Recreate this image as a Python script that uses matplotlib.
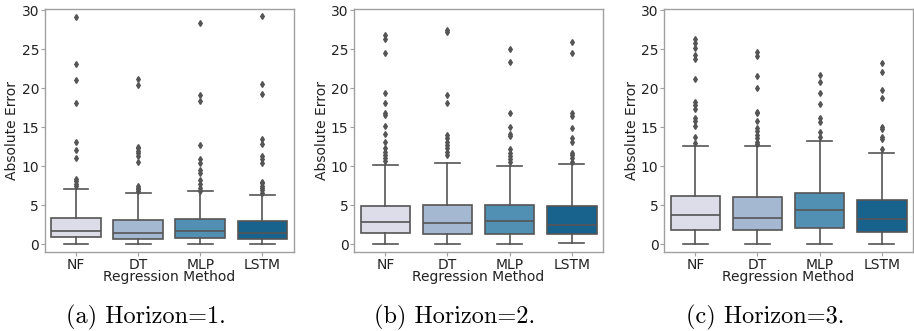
import matplotlib
matplotlib.use("Agg")
import matplotlib.pyplot as plt
import seaborn as sns

methods = ["NF", "DT", "MLP", "LSTM"]
horizons = [1, 2, 3]
panel_tags = ["a", "b", "c"]

# Box summaries per horizon, one entry per method: lower whisker, Q1, median, Q3, upper whisker
h1_whislo = [0.08, 0.08, 0.08, 0.08]
h1_q1 = [0.98, 0.68, 0.81, 0.68]
h1_med = [1.75, 1.45, 1.75, 1.49]
h1_q3 = [3.41, 3.07, 3.20, 3.03]
h1_whishi = [7.08, 6.57, 6.79, 6.27]
h1_fliers = [
    [29.1, 23.1, 21.1, 18.1, 13.06, 12.08, 11.1, 8.4, 8.1, 7.7, 7.5],
    [21.17, 20.4, 12.5, 12.3, 12.0, 11.65, 11.3, 10.55, 7.5, 7.25, 7.04, 6.87],
    [28.4, 19.1, 18.35, 12.76, 10.88, 10.46, 9.52, 9.18, 8.24, 7.68, 7.17, 6.87],
    [29.2, 20.49, 19.25, 13.49, 12.85, 11.35, 10.9, 10.37, 8.0, 7.8, 7.5, 7.2, 6.9, 6.6],
]

h2_whislo = [0.08, 0.08, 0.08, 0.17]
h2_q1 = [1.41, 1.28, 1.32, 1.28]
h2_med = [2.82, 2.69, 2.99, 2.48]
h2_q3 = [4.95, 5.04, 5.04, 4.87]
h2_whishi = [10.16, 10.41, 10.03, 10.24]
h2_fliers = [
    [26.8, 26.25, 24.45, 19.42, 18.05, 16.77, 16.56, 15.15, 14.08, 13.15, 12.38, 11.87, 11.44, 11.0, 10.67],
    [27.5, 27.2, 19.1, 18.1, 14.0, 13.57, 13.15, 12.7, 12.3, 11.87, 11.44],
    [24.97, 23.39, 16.86, 15.07, 14.08, 13.87, 12.16, 11.74, 11.31, 10.88, 10.5],
    [25.95, 24.45, 16.77, 16.47, 14.85, 13.66, 13.15, 11.74, 11.4, 11.0, 10.58],
]

h3_whislo = [0.08, 0.08, 0.08, 0.08]
h3_q1 = [1.84, 1.84, 2.13, 1.54]
h3_med = [3.80, 3.41, 4.35, 3.20]
h3_q3 = [6.19, 6.02, 6.62, 5.68]
h3_whishi = [12.63, 12.63, 13.23, 11.74]
h3_fliers = [
    [26.25, 25.8, 25.2, 24.24, 23.7, 21.13, 18.27, 17.84, 17.29, 16.22, 15.83, 15.15, 13.79, 13.02],
    [24.67, 24.11, 21.6, 19.97, 16.99, 16.77, 15.83, 14.85, 14.55, 14.0, 13.57, 13.15, 12.8],
    [21.68, 20.83, 19.42, 17.93, 16.13, 15.7, 14.43, 13.7],
    [23.18, 22.1, 19.76, 18.78, 15.07, 14.72, 13.79, 13.44, 12.16],
]

summaries = [
    (h1_whislo, h1_q1, h1_med, h1_q3, h1_whishi, h1_fliers),
    (h2_whislo, h2_q1, h2_med, h2_q3, h2_whishi, h2_fliers),
    (h3_whislo, h3_q1, h3_med, h3_q3, h3_whishi, h3_fliers),
]

palette = [sns.desaturate(c, 0.75) for c in sns.color_palette("PuBu", 4)]
line_gray = "#555555"
spine_gray = "#a0a0a0"

plt.rcParams["font.family"] = ["DejaVu Sans"]
plt.rcParams["axes.unicode_minus"] = False

fig = plt.figure(figsize=(9.14, 3.31), dpi=100)
ax_lefts = [45 / 914, 354.3 / 914, 664.3 / 914]
ax_w = 248.5 / 914
ax_b = (331 - 252) / 331
ax_h = 243 / 331

for i, (wlo, q1, med, q3, whi, fl) in enumerate(summaries):
    ax = fig.add_axes([ax_lefts[i], ax_b, ax_w, ax_h])
    stats = []
    for j, m in enumerate(methods):
        stats.append(dict(label=m, whislo=wlo[j], q1=q1[j], med=med[j],
                          q3=q3[j], whishi=whi[j], fliers=fl[j]))
    bp = ax.bxp(stats, positions=range(len(methods)), widths=0.8,
                patch_artist=True, showfliers=True,
                boxprops=dict(edgecolor=line_gray, linewidth=1.2),
                medianprops=dict(color=line_gray, linewidth=1.2),
                whiskerprops=dict(color=line_gray, linewidth=1.2),
                capprops=dict(color=line_gray, linewidth=1.2),
                flierprops=dict(marker="d", markersize=3.0,
                                markerfacecolor=line_gray,
                                markeredgecolor=line_gray))
    for patch, col in zip(bp["boxes"], palette):
        patch.set_facecolor(col)
    for cap in bp["caps"]:
        x0, x1 = cap.get_xdata()
        c = (x0 + x1) / 2
        cap.set_xdata([c - 0.2, c + 0.2])
    ax.set_xlim(-0.5, 3.5)
    ax.set_ylim(-1.0, 30.15)
    ax.set_yticks([0, 5, 10, 15, 20, 25, 30])
    ax.set_xticks(range(len(methods)))
    ax.set_xticklabels(methods)
    ax.tick_params(labelsize=10, colors="#222222", length=3, width=0.8, pad=1.2)
    ax.tick_params(color=spine_gray)
    for s in ax.spines.values():
        s.set_color(spine_gray)
        s.set_linewidth(1.0)
    ax.set_xlabel("Regression Method", fontsize=10, labelpad=-1, color="#222222")
    ax.set_ylabel("Absolute Error", fontsize=10, labelpad=1.5, color="#222222")

    cx = (ax_lefts[i] + ax_w / 2) - 23.5 / 914
    fig.text(cx, 1 / 331, "(%s) Horizon=%d." % (panel_tags[i], horizons[i]),
             ha="center", va="bottom", fontsize=17.5, family="cmr10",
             color="black")

fig.savefig("out.png", dpi=100)
